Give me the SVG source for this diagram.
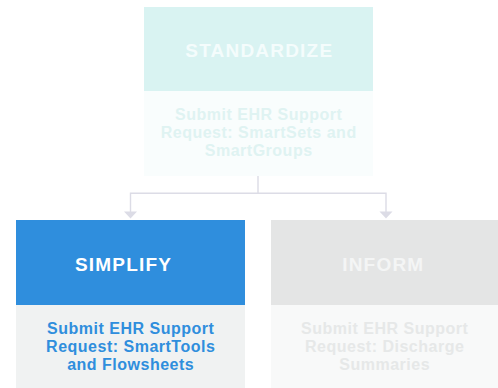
<svg xmlns="http://www.w3.org/2000/svg" width="498" height="388" viewBox="0 0 498 388">
<defs>
<style>
.t{font-family:"Liberation Sans",Arial,Helvetica,sans-serif;font-weight:bold;text-anchor:middle}
.h{font-size:19px;letter-spacing:1.2px}
.b{font-size:16px;letter-spacing:0.5px}
.c{fill:none;stroke:#DCDCE6;stroke-width:1.4}
.a{fill:#DCDCE6}
</style>
</defs>
<rect width="498" height="388" fill="#FFFFFF"/>
<g id="connectors">
<path class="c" d="M258,176 V193.3 H130.5 V212"/>
<path class="c" d="M258,193.3 H386 V212"/>
<path class="a" d="M124,211.5 L137,211.5 L130.5,218.5 Z"/>
<path class="a" d="M379.5,211.5 L392.5,211.5 L386,218.5 Z"/>
</g>
<g id="standardize">
<rect x="144" y="7" width="229" height="84" fill="#D9F3F2"/>
<rect x="144" y="91" width="229" height="85" fill="#F9FDFD"/>
<text class="t h" x="259.3" y="56.7" fill="#F4FCFC">STANDARDIZE</text>
<text class="t b" x="258.7" y="120.3" fill="#DFF3F2">Submit EHR Support</text>
<text class="t b" x="258.7" y="138.3" fill="#DFF3F2">Request: SmartSets and</text>
<text class="t b" x="258.7" y="156.3" fill="#DFF3F2">SmartGroups</text>
</g>
<g id="simplify">
<rect x="16" y="220" width="229" height="85" fill="#2F8EDD"/>
<rect x="16" y="305" width="229" height="83" fill="#F0F2F2"/>
<text class="t h" x="123.6" y="270.7" fill="#FFFFFF">SIMPLIFY</text>
<text class="t b" x="130.7" y="334.3" fill="#2F8EDD">Submit EHR Support</text>
<text class="t b" x="130.7" y="352.3" fill="#2F8EDD">Request: SmartTools</text>
<text class="t b" x="130.7" y="370.3" fill="#2F8EDD">and Flowsheets</text>
</g>
<g id="inform">
<rect x="271" y="220" width="227" height="85" fill="#E4E5E5"/>
<rect x="271" y="305" width="227" height="83" fill="#F8F9F9"/>
<text class="t h" x="383.3" y="270.7" fill="#F4F5F5">INFORM</text>
<text class="t b" x="384.7" y="334.3" fill="#E6E8E8">Submit EHR Support</text>
<text class="t b" x="384.7" y="352.3" fill="#E6E8E8">Request: Discharge</text>
<text class="t b" x="384.7" y="370.3" fill="#E6E8E8">Summaries</text>
</g>
</svg>
